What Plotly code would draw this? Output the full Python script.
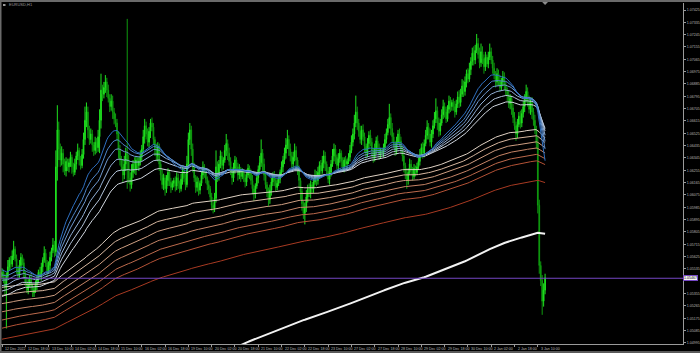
import plotly.graph_objects as go

# ---------------- data (EURUSD H1, 12 Dec 2022 02:00 -> 3 Jan 2023) ----------------
close = [
    # 12 Dec (02:00-23:00)
    1.0551, 1.0546, 1.0540, 1.0548, 1.0555, 1.0560, 1.0557, 1.0563, 1.0568, 1.0561, 1.0554,
    1.0549, 1.0556, 1.0562, 1.0558, 1.0550, 1.0544, 1.0538, 1.0542, 1.0547, 1.0541, 1.0536,
    # 13 Dec
    1.0538, 1.0542, 1.0546, 1.0551, 1.0548, 1.0555, 1.0560, 1.0565, 1.0558, 1.0552, 1.0556, 1.0562,
    1.0567, 1.0571, 1.0566, 1.0628, 1.0655, 1.0641, 1.0633, 1.0638, 1.0630, 1.0625, 1.0632, 1.0628,
    # 14 Dec
    1.0631, 1.0635, 1.0628, 1.0624, 1.0630, 1.0636, 1.0640, 1.0633, 1.0629, 1.0637, 1.0648, 1.0662,
    1.0668, 1.0655, 1.0648, 1.0652, 1.0644, 1.0640, 1.0646, 1.0642, 1.0650, 1.0662, 1.0684, 1.0681,
    # 15 Dec
    1.0686, 1.0690, 1.0684, 1.0678, 1.0672, 1.0676, 1.0668, 1.0663, 1.0660, 1.0652, 1.0640, 1.0633,
    1.0628, 1.0622, 1.0630, 1.0638, 1.0632, 1.0620, 1.0615, 1.0624, 1.0630, 1.0626, 1.0633, 1.0629,
    # 16 Dec
    1.0632, 1.0636, 1.0641, 1.0650, 1.0658, 1.0652, 1.0646, 1.0654, 1.0660, 1.0657, 1.0648, 1.0641,
    1.0636, 1.0643, 1.0630, 1.0622, 1.0615, 1.0620, 1.0612, 1.0618, 1.0624, 1.0617, 1.0613, 1.0616,
    # 19 Dec
    1.0618, 1.0614, 1.0620, 1.0616, 1.0612, 1.0619, 1.0625, 1.0620, 1.0615, 1.0630, 1.0648, 1.0655,
    1.0641, 1.0628, 1.0620, 1.0613, 1.0617, 1.0611, 1.0616, 1.0622, 1.0628, 1.0624, 1.0619, 1.0615,
    # 20 Dec
    1.0612, 1.0606, 1.0600, 1.0598, 1.0605, 1.0628, 1.0622, 1.0630, 1.0636, 1.0629, 1.0633, 1.0640,
    1.0645, 1.0638, 1.0632, 1.0626, 1.0620, 1.0627, 1.0633, 1.0628, 1.0622, 1.0626, 1.0621, 1.0624,
    # 21 Dec
    1.0620, 1.0617, 1.0622, 1.0627, 1.0623, 1.0618, 1.0612, 1.0608, 1.0614, 1.0620, 1.0626, 1.0631,
    1.0638, 1.0630, 1.0622, 1.0615, 1.0610, 1.0604, 1.0611, 1.0617, 1.0622, 1.0618, 1.0613, 1.0616,
    # 22 Dec
    1.0619, 1.0624, 1.0628, 1.0633, 1.0638, 1.0644, 1.0648, 1.0641, 1.0636, 1.0630, 1.0635, 1.0640,
    1.0633, 1.0626, 1.0618, 1.0610, 1.0601, 1.0594, 1.0598, 1.0606, 1.0612, 1.0609, 1.0615, 1.0612,
    # 23 Dec
    1.0617, 1.0622, 1.0618, 1.0624, 1.0629, 1.0625, 1.0631, 1.0636, 1.0630, 1.0625, 1.0619, 1.0624,
    1.0630, 1.0636, 1.0641, 1.0635, 1.0629, 1.0634, 1.0638, 1.0632, 1.0628, 1.0633, 1.0630, 1.0632,
    # 27 Dec
    1.0635, 1.0640, 1.0646, 1.0652, 1.0660, 1.0668, 1.0660, 1.0654, 1.0648, 1.0655, 1.0650, 1.0643,
    1.0638, 1.0645, 1.0651, 1.0646, 1.0640, 1.0635, 1.0641, 1.0647, 1.0642, 1.0637, 1.0640, 1.0638,
    # 28 Dec
    1.0642, 1.0648, 1.0653, 1.0659, 1.0664, 1.0656, 1.0650, 1.0645, 1.0640, 1.0646, 1.0652, 1.0647,
    1.0641, 1.0636, 1.0629, 1.0623, 1.0618, 1.0624, 1.0630, 1.0626, 1.0621, 1.0627, 1.0624, 1.0628,
    # 29 Dec
    1.0632, 1.0637, 1.0642, 1.0638, 1.0645, 1.0651, 1.0657, 1.0652, 1.0646, 1.0652, 1.0658, 1.0663,
    1.0669, 1.0660, 1.0654, 1.0660, 1.0666, 1.0672, 1.0668, 1.0663, 1.0670, 1.0676, 1.0672, 1.0675,
    # 30 Dec
    1.0672, 1.0668, 1.0674, 1.0679, 1.0675, 1.0681, 1.0687, 1.0683, 1.0690, 1.0696, 1.0692, 1.0699,
    1.0705, 1.0711, 1.0706, 1.0713, 1.0718, 1.0710, 1.0704, 1.0712, 1.0707, 1.0701, 1.0708, 1.0703,
    # 2 Jan
    1.0708, 1.0712, 1.0706, 1.0700, 1.0695, 1.0690, 1.0696, 1.0691, 1.0686, 1.0690, 1.0694, 1.0688,
    1.0683, 1.0680, 1.0674, 1.0678, 1.0671, 1.0664, 1.0658, 1.0652, 1.0659, 1.0665, 1.0660, 1.0667,
    # 3 Jan (00:00-15:00)
    1.0672, 1.0678, 1.0683, 1.0676, 1.0670, 1.0675, 1.0668, 1.0662, 1.0655, 1.0645, 1.0600, 1.0556,
    1.0545, 1.0530, 1.0538, 1.0547,
]
first_open = 1.0548

# wick lengths in pips above max(open, close) and below min(open, close)
wick_hi = [
    3, 2, 4, 3, 5, 2, 3, 4, 6, 2, 3, 2, 4, 3, 2, 3, 2, 3, 4, 2, 3, 2,
    2, 3, 3, 2, 4, 3, 2, 5, 3, 2, 3, 4, 2, 5, 3, 12, 18, 6, 4, 5, 3, 4, 3, 2,
    3, 4, 2, 3, 4, 3, 5, 2, 3, 4, 5, 10, 7, 4, 3, 4, 3, 2, 4, 3, 5, 8, 12, 4,
    4, 5, 3, 4, 3, 5, 4, 3, 4, 3, 2, 4, 3, 5, 6, 4, 98, 5, 4, 6, 3, 5, 3, 2,
    3, 4, 3, 5, 5, 3, 4, 3, 3, 4, 3, 2, 4, 3, 2, 3, 4, 3, 2, 4, 3, 2, 3, 2,
    2, 3, 4, 3, 2, 4, 3, 2, 3, 6, 5, 5, 3, 4, 3, 2, 4, 3, 2, 3, 4, 2, 3, 2,
    3, 2, 3, 2, 4, 12, 4, 3, 4, 3, 2, 4, 7, 3, 4, 3, 2, 4, 3, 2, 3, 4, 2, 3,
    2, 3, 4, 3, 2, 3, 4, 3, 2, 4, 3, 5, 10, 3, 4, 3, 2, 3, 4, 3, 2, 3, 2, 3,
    3, 2, 4, 3, 4, 5, 7, 3, 4, 3, 4, 5, 3, 2, 3, 2, 3, 2, 4, 5, 3, 4, 3, 2,
    3, 4, 3, 4, 3, 4, 5, 4, 3, 2, 3, 4, 3, 5, 4, 3, 2, 4, 3, 2, 3, 2, 3, 2,
    3, 4, 5, 4, 6, 12, 4, 3, 4, 3, 4, 3, 2, 4, 3, 4, 3, 2, 4, 3, 4, 3, 2, 2,
    3, 4, 3, 4, 10, 3, 4, 3, 2, 4, 3, 4, 3, 2, 3, 2, 4, 3, 4, 3, 2, 3, 2, 3,
    3, 4, 3, 4, 3, 4, 5, 3, 4, 3, 4, 5, 9, 3, 4, 3, 4, 5, 3, 4, 3, 4, 3, 2,
    3, 4, 3, 4, 5, 4, 5, 4, 4, 3, 4, 5, 3, 4, 5, 4, 7, 4, 5, 6, 4, 3, 4, 2,
    4, 6, 3, 3, 4, 3, 4, 3, 4, 3, 4, 3, 2, 3, 4, 3, 2, 3, 4, 3, 4, 3, 4, 3,
    4, 3, 5, 3, 4, 3, 4, 3, 4, 3, 5, 4, 3, 4, 5, 3,
]
wick_lo = [
    2, 3, 6, 30, 2, 3, 4, 2, 3, 2, 4, 3, 2, 3, 2, 4, 3, 2, 3, 2, 4, 3,
    3, 2, 4, 3, 2, 3, 4, 2, 3, 4, 2, 3, 3, 2, 4, 3, 10, 8, 5, 4, 6, 3, 4, 3,
    4, 3, 5, 3, 2, 4, 3, 4, 3, 2, 3, 4, 5, 6, 4, 3, 5, 4, 3, 4, 3, 12, 6, 5,
    3, 4, 5, 3, 4, 3, 5, 4, 3, 5, 6, 4, 3, 5, 3, 5, 20, 4, 5, 3, 4, 3, 4, 3,
    4, 3, 4, 3, 5, 4, 3, 4, 5, 3, 4, 5, 3, 4, 5, 4, 3, 4, 5, 3, 4, 3, 4, 2,
    3, 4, 3, 4, 3, 2, 4, 3, 4, 2, 3, 4, 5, 4, 3, 4, 3, 4, 3, 2, 3, 4, 3, 4,
    4, 3, 4, 4, 3, 3, 5, 4, 3, 4, 3, 2, 4, 5, 3, 4, 5, 3, 4, 3, 4, 3, 4, 2,
    3, 4, 3, 2, 4, 3, 4, 5, 3, 2, 4, 3, 3, 5, 4, 3, 4, 5, 3, 4, 3, 4, 3, 2,
    2, 3, 2, 4, 3, 4, 3, 5, 4, 3, 4, 3, 5, 4, 5, 6, 5, 4, 8, 3, 4, 3, 4, 3,
    3, 2, 4, 3, 4, 3, 2, 4, 5, 4, 3, 4, 3, 2, 4, 5, 3, 4, 3, 4, 3, 4, 2, 3,
    2, 3, 2, 3, 4, 3, 5, 4, 3, 4, 3, 5, 4, 3, 4, 3, 5, 4, 3, 4, 3, 4, 3, 2,
    3, 2, 3, 2, 3, 5, 4, 3, 4, 3, 2, 4, 3, 4, 5, 4, 6, 3, 2, 4, 3, 2, 3, 2,
    2, 3, 2, 4, 3, 2, 3, 4, 3, 4, 3, 2, 3, 5, 4, 3, 2, 3, 4, 3, 2, 3, 4, 3,
    3, 4, 2, 3, 4, 3, 2, 4, 3, 4, 3, 2, 4, 3, 4, 3, 2, 3, 4, 3, 4, 5, 3, 2,
    3, 2, 3, 4, 3, 4, 3, 4, 3, 2, 3, 4, 3, 4, 3, 4, 5, 4, 3, 5, 3, 2, 4, 3,
    3, 4, 3, 4, 3, 4, 5, 4, 3, 4, 6, 6, 4, 10, 4, 3,
]

time_labels = [
    "12 Dec 2022", "12 Dec 18:00", "13 Dec 10:00", "14 Dec 02:00", "14 Dec 18:00",
    "15 Dec 10:00", "16 Dec 02:00", "16 Dec 18:00", "19 Dec 10:00", "20 Dec 02:00",
    "20 Dec 18:00", "21 Dec 10:00", "22 Dec 02:00", "22 Dec 18:00", "23 Dec 10:00",
    "27 Dec 02:00", "27 Dec 18:00", "28 Dec 10:00", "29 Dec 02:00", "29 Dec 18:00",
    "30 Dec 10:00", "2 Jan 02:00", "2 Jan 18:00", "3 Jan 10:00",
]
label_every = 16  # bars between time labels

price_labels = [
    "1.07425", "1.07335", "1.07245", "1.07155", "1.07065", "1.06975", "1.06885",
    "1.06795", "1.06705", "1.06615", "1.06525", "1.06435", "1.06345", "1.06255",
    "1.06165", "1.06075", "1.05985", "1.05895", "1.05805", "1.05715", "1.05625",
    "1.05535", "1.05355", "1.05265", "1.05175", "1.05085", "1.04995",
]
bid_price = 1.05467

# moving-average ribbon (EMA periods and their values at the first visible bar)
fast_periods = [30, 38, 46, 56, 68, 84]
fast_seeds = [1.0553, 1.0549, 1.0545, 1.0541, 1.0537, 1.0533]
fast_colors = ["#2e6fc0", "#4f86c9", "#7099cf", "#93b0d6", "#b5c6dc", "#d2d8e0"]
slow_periods = [200, 230, 260, 290, 320, 350, 450]
slow_seeds = [1.0540, 1.0534, 1.0528, 1.0522, 1.0516, 1.0510, 1.0502]
slow_colors = ["#e0d2c4", "#d8b8a0", "#cf9f82", "#c68466", "#bd6a4c", "#b45236", "#a83a22"]
long_period = 550
long_seed = 1.0398

# ---------------- build ----------------
assert len(close) == len(wick_hi) == len(wick_lo)
n = len(close)
bars = list(range(n))
opens = [first_open] + close[:-1]
highs = [max(o, c) + w * 1e-4 for o, c, w in zip(opens, close, wick_hi)]
lows = [min(o, c) - w * 1e-4 for o, c, w in zip(opens, close, wick_lo)]


def ema(vals, period, seed):
    a = 2.0 / (period + 1)
    e = seed
    out = []
    for v in vals:
        e = e + a * (v - e)
        out.append(e)
    return out


W, H = 700, 353
PLOT_L, PLOT_R, PLOT_T, PLOT_B = 0, 683, 3, 344
PX_PER_BAR = 1.456
x0 = -2 / PX_PER_BAR
x1 = (PLOT_R - PLOT_L - 2) / PX_PER_BAR
P_PER_PX = 0.0009 / 12.33
y_top = 1.07425 + (10 - PLOT_T) * P_PER_PX
y_bot = 1.07425 - (PLOT_B - 10) * P_PER_PX

fig = go.Figure()
fig.add_trace(go.Candlestick(
    x=bars, open=opens, high=highs, low=lows, close=close,
    increasing=dict(line=dict(color="#1fe01f", width=1), fillcolor="#1fe01f"),
    decreasing=dict(line=dict(color="#0f9a0f", width=1), fillcolor="#0f9a0f"),
    whiskerwidth=0, hoverinfo="skip", showlegend=False,
))

for p, s, col in zip(slow_periods[::-1], slow_seeds[::-1], slow_colors[::-1]):
    fig.add_trace(go.Scatter(x=bars, y=ema(close, p, s), mode="lines",
                             line=dict(color=col, width=1), hoverinfo="skip", showlegend=False))
for p, s, col in zip(fast_periods[::-1], fast_seeds[::-1], fast_colors[::-1]):
    fig.add_trace(go.Scatter(x=bars, y=ema(close, p, s), mode="lines",
                             line=dict(color=col, width=1), hoverinfo="skip", showlegend=False))
fig.add_trace(go.Scatter(x=bars, y=ema(close, long_period, long_seed), mode="lines",
                         line=dict(color="#f2f2f2", width=2), hoverinfo="skip", showlegend=False))

# bid line
fig.add_trace(go.Scatter(x=[x0, x1], y=[bid_price, bid_price], mode="lines",
                         line=dict(color="#7447c4", width=1), hoverinfo="skip", showlegend=False))

axis_col = "#9a9a9a"
txt_col = "#b8b8b8"
fig.update_layout(
    width=W, height=H,
    margin=dict(l=PLOT_L, r=W - PLOT_R, t=PLOT_T, b=H - PLOT_B, pad=0),
    paper_bgcolor="black", plot_bgcolor="black",
    font=dict(family="Liberation Sans, Arial", color=txt_col, size=4),
    xaxis=dict(range=[x0, x1], showgrid=False, zeroline=False, showline=True,
               linecolor=axis_col, linewidth=1, ticks="outside", ticklen=2,
               tickcolor=axis_col, tickvals=[i * label_every for i in range(len(time_labels))],
               showticklabels=False, rangeslider=dict(visible=False), fixedrange=True),
    yaxis=dict(range=[y_bot, y_top], side="right", showgrid=False, zeroline=False,
               showline=True, linecolor=axis_col, linewidth=1, ticks="outside",
               ticklen=2, tickcolor=axis_col,
               tickvals=[float(t) for t in price_labels], ticktext=price_labels,
               tickfont=dict(size=3.6, color=txt_col), fixedrange=True),
)

ann = []
for i, t in enumerate(time_labels):
    ann.append(dict(x=i * label_every, y=-0.004, xref="x", yref="paper", text=t,
                    showarrow=False, xanchor="left", yanchor="top", xshift=1,
                    font=dict(size=3.6, color=txt_col)))
# current price box
ann.append(dict(x=1.0, y=bid_price, xref="paper", yref="y", text="1.05467",
                showarrow=False, xanchor="left", yanchor="middle", xshift=0,
                bgcolor="#f4f4f4", bordercolor="#7447c4", borderwidth=1, borderpad=0,
                font=dict(size=3.6, color="black")))
# chart title
ann.append(dict(x=7 / 683, y=(PLOT_B - 5) / (PLOT_B - PLOT_T), xref="paper", yref="paper",
                text="EURUSD,H1", showarrow=False, xanchor="left", yanchor="middle",
                font=dict(size=4, color="#9a9a9a")))
fig.update_layout(annotations=ann)

def py(px):  # pixel row -> paper y
    return (PLOT_B - px) / (PLOT_B - PLOT_T)

def pxx(px):  # pixel column -> paper x
    return (px - PLOT_L) / (PLOT_R - PLOT_L)

shapes = [
    # window frame
    dict(type="rect", xref="paper", yref="paper", x0=pxx(0), x1=pxx(W), y0=py(0), y1=py(2),
         fillcolor="#6a6a6a", line=dict(width=0), layer="above"),
    dict(type="rect", xref="paper", yref="paper", x0=pxx(0), x1=pxx(1.5), y0=py(H), y1=py(0),
         fillcolor="#6a6a6a", line=dict(width=0), layer="above"),
    dict(type="rect", xref="paper", yref="paper", x0=pxx(0), x1=pxx(W), y0=py(H), y1=py(351),
         fillcolor="#5a5a5a", line=dict(width=0), layer="above"),
    # title icon
    dict(type="rect", xref="paper", yref="paper", x0=pxx(3), x1=pxx(5.5), y0=py(6), y1=py(4),
         fillcolor="#9a9a9a", line=dict(width=0), layer="above"),
    # chart-shift marker
    dict(type="path", xref="x", yref="paper",
         path=f"M {n - 1 - 2},{py(2)} L {n - 1 + 2},{py(2)} L {n - 1},{py(5)} Z",
         fillcolor="#8a8a8a", line=dict(width=0), layer="above"),
]
fig.update_layout(shapes=shapes)

fig.write_html("out.html")
